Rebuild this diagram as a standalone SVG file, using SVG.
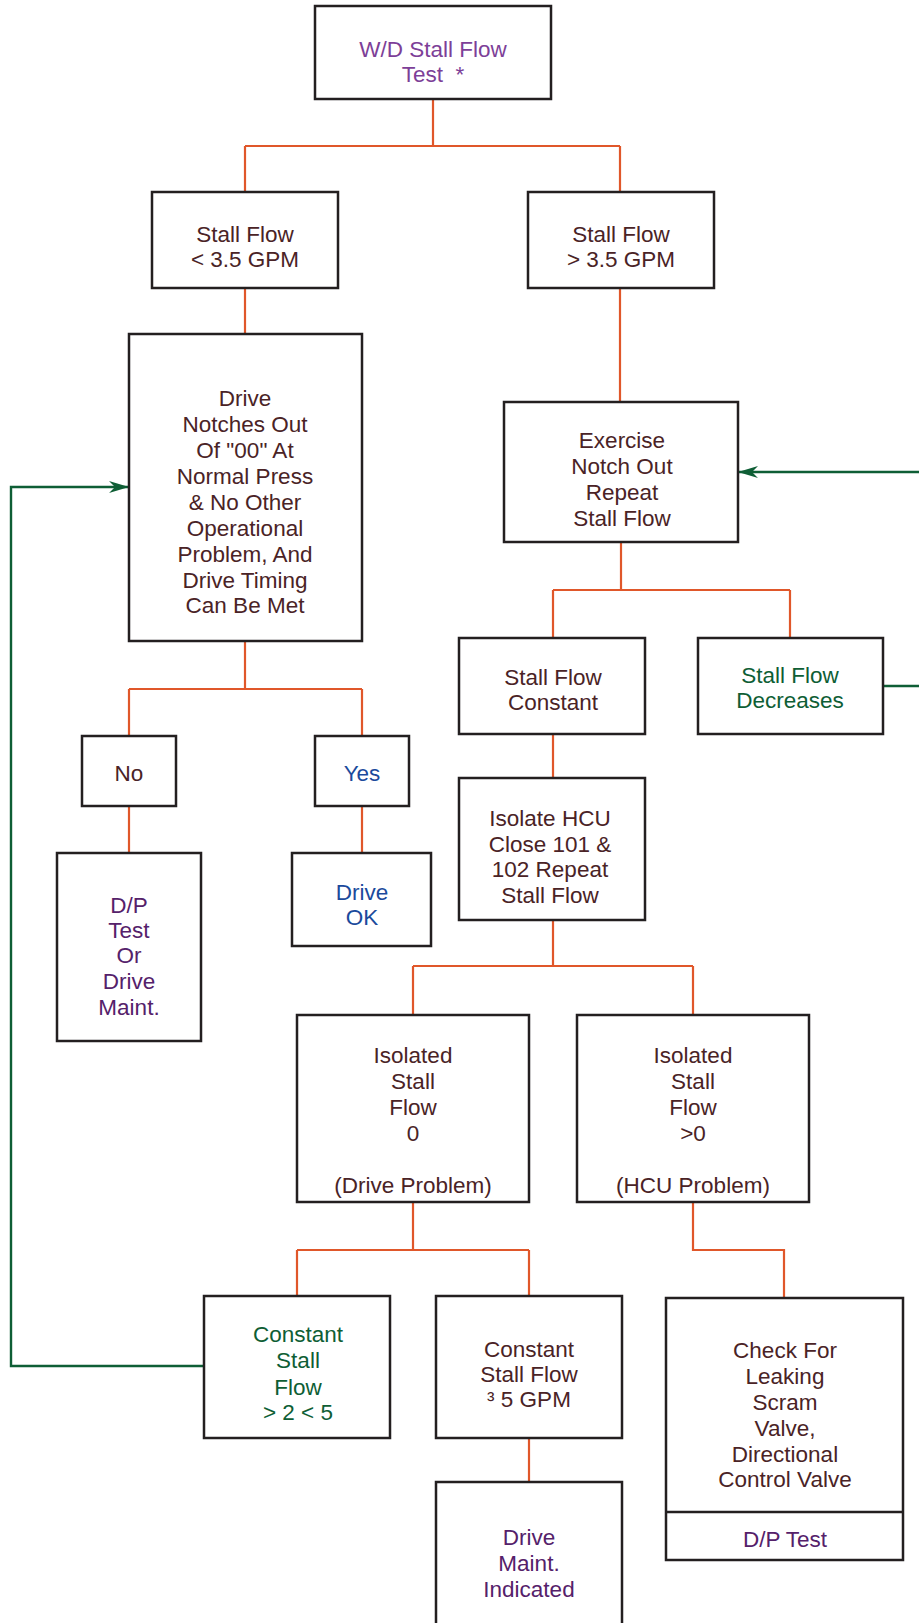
<svg xmlns="http://www.w3.org/2000/svg" width="919" height="1623" viewBox="0 0 919 1623">
<style>
.box{fill:#fff;stroke:#231f20;stroke-width:2.5}
text{font-family:"Liberation Sans",Arial,sans-serif;font-size:22.5px;text-anchor:middle;fill:#4a2326}
.pu{fill:#7d3f98}
.dp{fill:#55216a}
.bl{fill:#1b4a9c}
.gr{fill:#0e5e35}
.or{fill:none;stroke:#e0572a;stroke-width:2.2}
.gl{fill:none;stroke:#0e5e35;stroke-width:2.4}
</style>
<defs>
<marker id="ah" viewBox="0 0 20 12" refX="19" refY="6" markerWidth="20" markerHeight="12" markerUnits="userSpaceOnUse" orient="auto">
<path d="M0,0 L20,6 L0,12 L6,6 z" fill="#0e5e35"/>
</marker>
</defs>
<g id="connectors">
<path class="or" d="M433,99 V146 M245,146 H620 M245,146 V192 M620,146 V192"/>
<path class="or" d="M245,288 V334 M620,288 V402"/>
<path class="or" d="M245,641 V689 M129,689 H362 M129,689 V736 M362,689 V736"/>
<path class="or" d="M129,806 V853 M362,806 V853"/>
<path class="or" d="M621,542 V590 M553,590 H790 M553,590 V638 M790,590 V638"/>
<path class="or" d="M553,734 V778 M553,920 V966 M413,966 H693 M413,966 V1015 M693,966 V1015"/>
<path class="or" d="M413,1202 V1250 M297,1250 H529 M297,1250 V1296 M529,1250 V1296"/>
<path class="or" d="M693,1202 V1250 H784 V1298"/>
<path class="or" d="M529,1438 V1482"/>
<path class="gl" d="M204,1366 H11 V487 H128" marker-end="url(#ah)"/>
<path class="gl" d="M883,686 H925 V472 H739" marker-end="url(#ah)"/>
</g>
<g id="n-top"><rect class="box" x="315" y="6" width="236" height="93"/>
<text class="pu" x="433" y="57">W/D Stall Flow</text><text class="pu" x="433" y="82">Test &#160;*</text></g>
<g id="n-lt"><rect class="box" x="152" y="192" width="186" height="96"/>
<text x="245" y="242">Stall Flow</text><text x="245" y="267">&lt; 3.5 GPM</text></g>
<g id="n-gt"><rect class="box" x="528" y="192" width="186" height="96"/>
<text x="621" y="242">Stall Flow</text><text x="621" y="267">&gt; 3.5 GPM</text></g>
<g id="n-drive"><rect class="box" x="129" y="334" width="233" height="307"/>
<text x="245" y="406">Drive</text><text x="245" y="432">Notches Out</text><text x="245" y="458">Of "00" At</text><text x="245" y="484">Normal Press</text><text x="245" y="510">&amp; No Other</text><text x="245" y="536">Operational</text><text x="245" y="562">Problem, And</text><text x="245" y="588">Drive Timing</text><text x="245" y="613">Can Be Met</text></g>
<g id="n-ex"><rect class="box" x="504" y="402" width="234" height="140"/>
<text x="622" y="448">Exercise</text><text x="622" y="474">Notch Out</text><text x="622" y="500">Repeat</text><text x="622" y="526">Stall Flow</text></g>
<g id="n-const"><rect class="box" x="459" y="638" width="186" height="96"/>
<text x="553" y="685">Stall Flow</text><text x="553" y="710">Constant</text></g>
<g id="n-dec"><rect class="box" x="698" y="638" width="185" height="96"/>
<text class="gr" x="790" y="683">Stall Flow</text><text class="gr" x="790" y="708">Decreases</text></g>
<g id="n-no"><rect class="box" x="82" y="736" width="94" height="70"/>
<text x="129" y="781">No</text></g>
<g id="n-yes"><rect class="box" x="315" y="736" width="94" height="70"/>
<text class="bl" x="362" y="781">Yes</text></g>
<g id="n-dp"><rect class="box" x="57" y="853" width="144" height="188"/>
<text class="dp" x="129" y="913">D/P</text><text class="dp" x="129" y="938">Test</text><text class="dp" x="129" y="963">Or</text><text class="dp" x="129" y="989">Drive</text><text class="dp" x="129" y="1015">Maint.</text></g>
<g id="n-ok"><rect class="box" x="292" y="853" width="139" height="93"/>
<text class="bl" x="362" y="900">Drive</text><text class="bl" x="362" y="925">OK</text></g>
<g id="n-iso"><rect class="box" x="459" y="778" width="186" height="142"/>
<text x="550" y="826">Isolate HCU</text><text x="550" y="852">Close 101 &amp;</text><text x="550" y="877">102 Repeat</text><text x="550" y="903">Stall Flow</text></g>
<g id="n-i0"><rect class="box" x="297" y="1015" width="232" height="187"/>
<text x="413" y="1063">Isolated</text><text x="413" y="1089">Stall</text><text x="413" y="1115">Flow</text><text x="413" y="1141">0</text><text x="413" y="1193">(Drive Problem)</text></g>
<g id="n-i1"><rect class="box" x="577" y="1015" width="232" height="187"/>
<text x="693" y="1063">Isolated</text><text x="693" y="1089">Stall</text><text x="693" y="1115">Flow</text><text x="693" y="1141">&gt;0</text><text x="693" y="1193">(HCU Problem)</text></g>
<g id="n-c25"><rect class="box" x="204" y="1296" width="186" height="142"/>
<text class="gr" x="298" y="1342">Constant</text><text class="gr" x="298" y="1368">Stall</text><text class="gr" x="298" y="1395">Flow</text><text class="gr" x="298" y="1420">&gt; 2 &lt; 5</text></g>
<g id="n-c5"><rect class="box" x="436" y="1296" width="186" height="142"/>
<text x="529" y="1357">Constant</text><text x="529" y="1382">Stall Flow</text><text x="529" y="1407">³ 5 GPM</text></g>
<g id="n-maint"><rect class="box" x="436" y="1482" width="186" height="150"/>
<text class="dp" x="529" y="1545">Drive</text><text class="dp" x="529" y="1571">Maint.</text><text class="dp" x="529" y="1597">Indicated</text></g>
<g id="n-check"><rect class="box" x="666" y="1298" width="237" height="262"/>
<line x1="666" y1="1512" x2="903" y2="1512" stroke="#231f20" stroke-width="2.5"/>
<text x="785" y="1358">Check For</text><text x="785" y="1384">Leaking</text><text x="785" y="1410">Scram</text><text x="785" y="1436">Valve,</text><text x="785" y="1462">Directional</text><text x="785" y="1487">Control Valve</text>
<text class="dp" x="785" y="1547">D/P Test</text></g>
</svg>
